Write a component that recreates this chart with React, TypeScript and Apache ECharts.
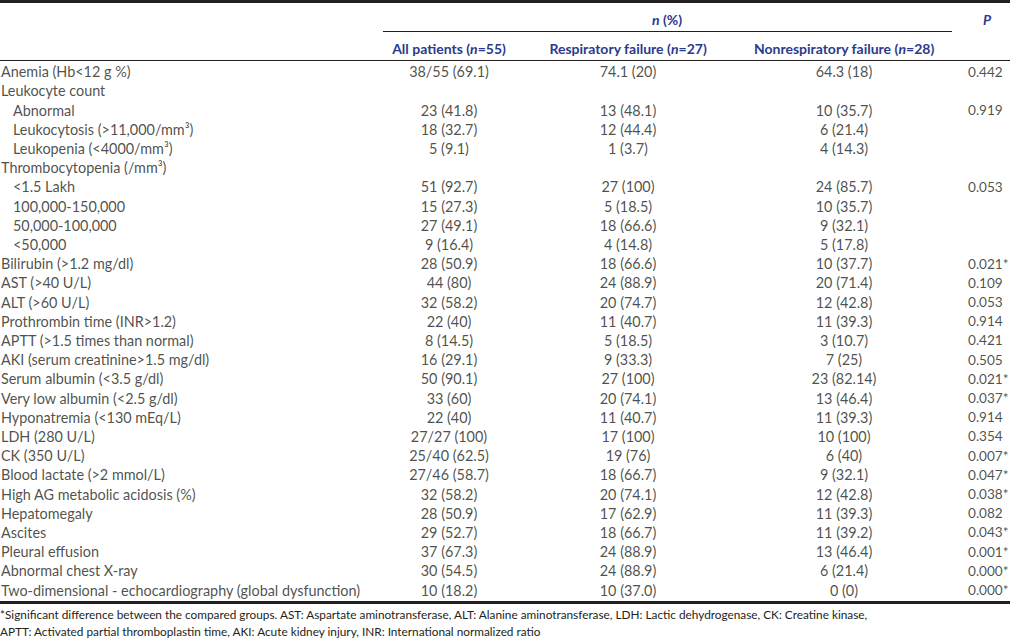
import React, { useEffect, useRef } from "react";
import * as echarts from "echarts";

const rowLabels = [
  "Anemia (Hb<12 g %)",
  "Leukocyte count",
  "Abnormal",
  "Leukocytosis (>11,000/mm³)",
  "Leukopenia (<4000/mm³)",
  "Thrombocytopenia (/mm³)",
  "<1.5 Lakh",
  "100,000-150,000",
  "50,000-100,000",
  "<50,000",
  "Bilirubin (>1.2 mg/dl)",
  "AST (>40 U/L)",
  "ALT (>60 U/L)",
  "Prothrombin time (INR>1.2)",
  "APTT (>1.5 times than normal)",
  "AKI (serum creatinine>1.5 mg/dl)",
  "Serum albumin (<3.5 g/dl)",
  "Very low albumin (<2.5 g/dl)",
  "Hyponatremia (<130 mEq/L)",
  "LDH (280 U/L)",
  "CK (350 U/L)",
  "Blood lactate (>2 mmol/L)",
  "High AG metabolic acidosis (%)",
  "Hepatomegaly",
  "Ascites",
  "Pleural effusion",
  "Abnormal chest X-ray",
  "Two-dimensional - echocardiography (global dysfunction)",
];

const indented = [
  false, false, true, true, true, false, true, true, true, true,
  false, false, false, false, false, false, false, false, false, false,
  false, false, false, false, false, false, false, false,
];

const allPatients = [
  "38/55 (69.1)", "", "23 (41.8)", "18 (32.7)", "5 (9.1)", "", "51 (92.7)", "15 (27.3)", "27 (49.1)", "9 (16.4)",
  "28 (50.9)", "44 (80)", "32 (58.2)", "22 (40)", "8 (14.5)", "16 (29.1)", "50 (90.1)", "33 (60)", "22 (40)", "27/27 (100)",
  "25/40 (62.5)", "27/46 (58.7)", "32 (58.2)", "28 (50.9)", "29 (52.7)", "37 (67.3)", "30 (54.5)", "10 (18.2)",
];

const respiratoryFailure = [
  "74.1 (20)", "", "13 (48.1)", "12 (44.4)", "1 (3.7)", "", "27 (100)", "5 (18.5)", "18 (66.6)", "4 (14.8)",
  "18 (66.6)", "24 (88.9)", "20 (74.7)", "11 (40.7)", "5 (18.5)", "9 (33.3)", "27 (100)", "20 (74.1)", "11 (40.7)", "17 (100)",
  "19 (76)", "18 (66.7)", "20 (74.1)", "17 (62.9)", "18 (66.7)", "24 (88.9)", "24 (88.9)", "10 (37.0)",
];

const nonRespiratoryFailure = [
  "64.3 (18)", "", "10 (35.7)", "6 (21.4)", "4 (14.3)", "", "24 (85.7)", "10 (35.7)", "9 (32.1)", "5 (17.8)",
  "10 (37.7)", "20 (71.4)", "12 (42.8)", "11 (39.3)", "3 (10.7)", "7 (25)", "23 (82.14)", "13 (46.4)", "11 (39.3)", "10 (100)",
  "6 (40)", "9 (32.1)", "12 (42.8)", "11 (39.3)", "11 (39.2)", "13 (46.4)", "6 (21.4)", "0 (0)",
];

const pValues = [
  "0.442", "", "0.919", "", "", "", "0.053", "", "", "",
  "0.021*", "0.109", "0.053", "0.914", "0.421", "0.505", "0.021*", "0.037*", "0.914", "0.354",
  "0.007*", "0.047*", "0.038*", "0.082", "0.043*", "0.001*", "0.000*", "0.000*",
];

const groupHeaders = ["All patients", "Respiratory failure", "Nonrespiratory failure"];
const groupN = [55, 27, 28];

const footnotes = [
  "*Significant difference between the compared groups. AST: Aspartate aminotransferase, ALT: Alanine aminotransferase, LDH: Lactic dehydrogenase, CK: Creatine kinase,",
  "APTT: Activated partial thromboplastin time, AKI: Acute kidney injury, INR: International normalized ratio",
];

const FONT = "Lato, 'Open Sans', sans-serif";
const INK = "#231f20";
const BLUE = "#2b3a8c";
const W = 1010;
const H = 640;
const ROW_TOP = 62;
const ROW_H = 19.2;
const COL_X = [449, 628, 844];
const P_X = 968;
const BODY_SIZE = 14.4;
const P_SIZE = 13.6;
const HEAD_SIZE = 14;

function cellSeries(values: string[], x: number | number[], left: boolean, size: number) {
  return {
    type: "scatter",
    symbolSize: 0,
    silent: true,
    data: values.map((v, i) => ({
      value: [Array.isArray(x) ? x[i] : x, i],
      text: v,
    })),
    label: {
      show: true,
      position: left ? "right" : "inside",
      distance: 0,
      align: left ? "left" : "center",
      verticalAlign: "middle",
      color: INK,
      fontFamily: FONT,
      fontSize: size,
      formatter: (p: any) => p.data.text,
    },
  };
}

export default function App() {
  const ref = useRef<HTMLDivElement>(null);
  useEffect(() => {
    if (!ref.current) return;
    const chart = echarts.init(ref.current, undefined, { renderer: "svg" });
    const headerStyle = (text: string, x: number, y: number) => ({
      type: "text",
      x,
      y,
      style: {
        text,
        align: "center",
        verticalAlign: "middle",
        textAlign: "center",
        textVerticalAlign: "middle",
        fill: BLUE,
        font: `bold ${HEAD_SIZE}px ${FONT}`,
        rich: {
          b: { fill: BLUE, fontWeight: "bold", fontSize: HEAD_SIZE, fontFamily: FONT },
          bi: { fill: BLUE, fontWeight: "bold", fontStyle: "italic", fontSize: HEAD_SIZE, fontFamily: FONT },
        },
      },
    });
    const graphics: any[] = [
      { type: "rect", shape: { x: 0, y: 0, width: W, height: 3 }, style: { fill: INK } },
      { type: "line", shape: { x1: 383, y1: 31.5, x2: 952, y2: 31.5 }, style: { stroke: INK, lineWidth: 1 } },
      { type: "line", shape: { x1: 0, y1: 60.5, x2: W, y2: 60.5 }, style: { stroke: INK, lineWidth: 1 } },
      { type: "rect", shape: { x: 0, y: 601, width: W, height: 3 }, style: { fill: INK } },
      headerStyle("{bi|n}{b| (%)}", 667, 19),
      headerStyle("{bi|P}", 987, 19),
      ...groupHeaders.map((g, i) => headerStyle(`{b|${g} (}{bi|n}{b|=${groupN[i]})}`, COL_X[i], 48)),
      ...footnotes.map((f, i) => ({
        type: "text",
        x: 0,
        y: 614 + i * 17,
        style: {
          text: f,
          align: "left",
          verticalAlign: "middle",
          textAlign: "left",
          textVerticalAlign: "middle",
          fill: INK,
          font: `11.8px ${FONT}`,
        },
      })),
    ];
    chart.setOption({
      animation: false,
      grid: { left: 0, right: 0, top: ROW_TOP, height: ROW_H * rowLabels.length },
      xAxis: { type: "value", min: 0, max: W, show: false },
      yAxis: {
        type: "category",
        data: rowLabels.map((_, i) => String(i)),
        inverse: true,
        show: false,
      },
      graphic: { elements: graphics },
      series: [
        cellSeries(rowLabels, indented.map((d) => (d ? 13 : 1)), true, BODY_SIZE),
        cellSeries(allPatients, COL_X[0], false, BODY_SIZE),
        cellSeries(respiratoryFailure, COL_X[1], false, BODY_SIZE),
        cellSeries(nonRespiratoryFailure, COL_X[2], false, BODY_SIZE),
        cellSeries(pValues, P_X, true, P_SIZE),
      ],
    });
    return () => chart.dispose();
  }, []);
  return (
    <div
      ref={ref}
      style={{ position: "fixed", left: 0, top: 0, width: W, height: H, background: "#fff" }}
    />
  );
}
